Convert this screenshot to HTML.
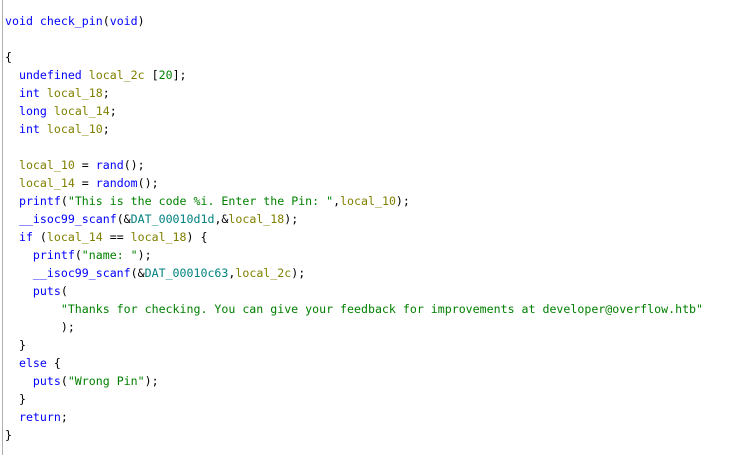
<!DOCTYPE html>
<html><head><meta charset="utf-8"><style>
html,body{margin:0;padding:0;background:#fff;width:729px;height:455px;overflow:hidden}
.bar{position:absolute;left:2px;top:0;width:1px;height:455px;background:#b0b0b0}
pre{position:absolute;left:5px;top:12px;margin:0;font-family:"DejaVu Sans Mono","Liberation Mono",monospace;font-size:11.6px;line-height:18px;color:#000}
.k{color:#0000ff}.f{color:#0000ff}.v{color:#808000}.s{color:#008000}.d{color:#008080}.n{color:#008000}
</style></head><body><div class="bar"></div><pre><span class="k">void</span> <span class="f">check_pin</span>(<span class="k">void</span>)

{
  <span class="k">undefined</span> <span class="v">local_2c</span> [<span class="n">20</span>];
  <span class="k">int</span> <span class="v">local_18</span>;
  <span class="k">long</span> <span class="v">local_14</span>;
  <span class="k">int</span> <span class="v">local_10</span>;

  <span class="v">local_10</span> = <span class="f">rand</span>();
  <span class="v">local_14</span> = <span class="f">random</span>();
  <span class="f">printf</span>(<span class="s">"This is the code %i. Enter the Pin: "</span>,<span class="v">local_10</span>);
  <span class="f">__isoc99_scanf</span>(&amp;<span class="d">DAT_00010d1d</span>,&amp;<span class="v">local_18</span>);
  <span class="k">if</span> (<span class="v">local_14</span> == <span class="v">local_18</span>) {
    <span class="f">printf</span>(<span class="s">"name: "</span>);
    <span class="f">__isoc99_scanf</span>(&amp;<span class="d">DAT_00010c63</span>,<span class="v">local_2c</span>);
    <span class="f">puts</span>(
        <span class="s">"Thanks for checking. You can give your feedback for improvements at developer@overflow.htb"</span>
        );
  }
  <span class="k">else</span> {
    <span class="f">puts</span>(<span class="s">"Wrong Pin"</span>);
  }
  <span class="k">return</span>;
}</pre></body></html>
